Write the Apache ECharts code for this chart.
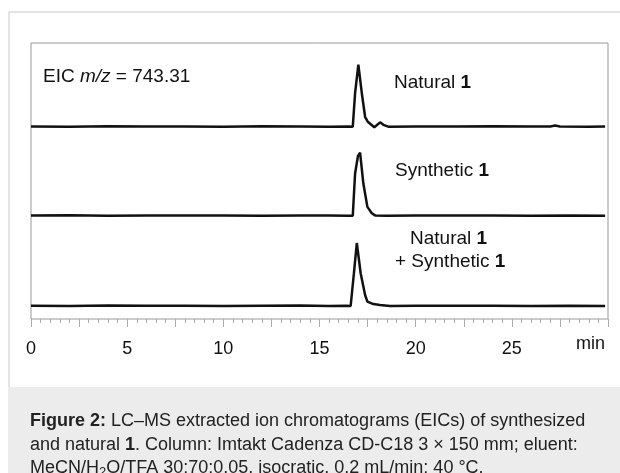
<!DOCTYPE html>
<html><head><meta charset="utf-8">
<script src="https://cdn.jsdelivr.net/npm/echarts@6/dist/echarts.min.js"></script>
<style>html,body{margin:0;padding:0;background:#fff}#c{width:620px;height:473px}</style>
</head><body><div id="c"></div>
<script>
// Retention times (min) and relative intensities (%) for each trace
const timesNatural = [0, 2, 4, 6, 8, 10, 12, 14, 15.5, 16.5, 16.73, 16.85, 17.02, 17.2, 17.37, 17.51, 17.85, 18.15, 18.32, 18.58, 20, 22, 24, 26, 27, 27.25, 27.5, 29, 29.85];
const natural      = [0.5, 0, 0.8, 0.2, 0.5, 0, 0.6, 0.3, 0, 0.5, 0, 54, 100, 54, 16, 8, -1, 7, 3, 0, 0.5, 0.3, 0.6, 0.2, 0.4, 2, 0.4, 0, 0.3];
const timesSynthetic = [0, 2, 4, 6, 8, 10, 12, 14, 15.5, 16.5, 16.73, 16.85, 17.0, 17.11, 17.28, 17.49, 17.72, 17.89, 18.5, 20, 22, 24, 26, 28, 29.85];
const synthetic      = [0.3, 0.6, 0, 0.4, 0.2, 0.5, 0, 0.3, 0.5, 0, 0, 67, 95, 100, 51, 14, 4, 0.5, 0, 0.4, 0.2, 0.5, 0, 0.3, 0];
const timesCoinj = [0, 2, 4, 6, 8, 10, 12, 14, 15.5, 16.4, 16.62, 16.79, 16.94, 17.14, 17.37, 17.49, 17.8, 18.15, 18.67, 20, 22, 24, 26, 28, 29.85];
const coinjection = [0.4, 0, 0.6, 0.2, 0.5, 0, 0.3, 0.6, 0, 0.4, 0, 52, 100, 52, 17.5, 7, 3, 1.6, 0, 0.4, 0.2, 0.5, 0, 0.3, 0];
const xMin = 0, xMax = 30, xTickInterval = 2.5, xLabelStep = 5;

// Layout (pixels)
const FONT = '"Liberation Sans", Arial, Helvetica, sans-serif';
const LBL = 19, CAP = 18;
const plotLeft = 31, plotRight = 12, plotTop = 43, plotBottom = 154;
const traceLayout = [
  { base: 126.7, height: 62 },
  { base: 215.7, height: 63 },
  { base: 306.0, height: 63 }
];

const zip = (t, v) => t.map((x, i) => [x, v[i]]);
const traces = [zip(timesNatural, natural), zip(timesSynthetic, synthetic), zip(timesCoinj, coinjection)];

const grids = [{ left: plotLeft, right: plotRight, top: plotTop, bottom: plotBottom, show: true, borderColor: '#999', borderWidth: 1, backgroundColor: 'transparent' }];
const xAxes = [{
  gridIndex: 0, type: 'value', min: xMin, max: xMax, interval: xTickInterval, offset: 6,
  axisLine: { show: false },
  axisTick: { show: true, length: 8, lineStyle: { color: '#aaa', width: 1 } },
  minorTick: { show: true, splitNumber: 5, length: 4, lineStyle: { color: '#aaa', width: 1 } },
  splitLine: { show: false },
  axisLabel: { margin: 15, fontFamily: FONT, fontSize: 18, color: '#111',
    formatter: v => (v % xLabelStep === 0 && v < xMax) ? String(v) : '' }
}];
const yAxes = [{ gridIndex: 0, type: 'value', show: false }];
const series = [];
traceLayout.forEach((L, i) => {
  grids.push({ left: plotLeft, right: plotRight, top: L.base - L.height, height: L.height, show: false });
  xAxes.push({ gridIndex: i + 1, type: 'value', min: xMin, max: xMax, show: false });
  yAxes.push({ gridIndex: i + 1, type: 'value', min: 0, max: 100, show: false });
  series.push({ type: 'line', xAxisIndex: i + 1, yAxisIndex: i + 1, data: traces[i], showSymbol: false, symbol: 'none', clip: false,
    lineStyle: { color: '#111', width: 2.5 }, silent: true });
});
const rn = { fontFamily: FONT, fontSize: LBL, fill: '#111' };
const rb = Object.assign({}, rn, { fontWeight: 'bold' });
const ri = Object.assign({}, rn, { fontStyle: 'italic' });
const cn = { fontFamily: FONT, fontSize: CAP, fill: '#222' };
const cb = Object.assign({}, cn, { fontWeight: 'bold' });
const cs = { fontFamily: FONT, fontSize: 13, fill: '#222', padding: [9, 0, 0, 0] };

const chart = echarts.init(document.getElementById('c'), null, { renderer: 'canvas' });
chart.setOption({
  animation: false,
  backgroundColor: '#fff',
  grid: grids, xAxis: xAxes, yAxis: yAxes, series: series,
  graphic: [
    { type: 'rect', shape: { x: 9, y: 12, width: 640, height: 500 }, style: { fill: 'none', stroke: '#dcdcdc', lineWidth: 1.5 }, z: -1 },
    { type: 'rect', shape: { x: 8, y: 387, width: 620, height: 90 }, style: { fill: '#ececec' }, z: 0 },
    { type: 'text', left: 43, top: 67, style: { text: '{n|EIC }{i|m/z}{n| = 743.31}', rich: { n: rn, i: ri } } },
    { type: 'text', left: 394, top: 73, style: { text: '{n|Natural }{b|1}', rich: { n: rn, b: rb } } },
    { type: 'text', left: 395, top: 161, style: { text: '{n|Synthetic }{b|1}', rich: { n: rn, b: rb } } },
    { type: 'text', left: 410, top: 229, style: { text: '{n|Natural }{b|1}', rich: { n: rn, b: rb } } },
    { type: 'text', left: 395, top: 252, style: { text: '{n|+ Synthetic }{b|1}', rich: { n: rn, b: rb } } },
    { type: 'text', left: 576, top: 335, style: { text: 'min', fontFamily: FONT, fontSize: 18, fill: '#111' } },
    { type: 'text', left: 30, top: 412, z: 2, style: { text: '{b|Figure 2:}{n| LC–MS extracted ion chromatograms (EICs) of synthesized}', rich: { n: cn, b: cb } } },
    { type: 'text', left: 30, top: 436, z: 2, style: { text: '{n|and natural }{b|1}{n|. Column: Imtakt Cadenza CD-C18 3 × 150 mm; eluent:}', rich: { n: cn, b: cb } } },
    { type: 'text', left: 30, top: 459, z: 2, style: { text: '{n|MeCN/H}{s|2}{n|O/TFA 30:70:0.05, isocratic, 0.2 mL/min; 40 °C.}', rich: { n: cn, s: cs } } }
  ]
});
</script></body></html>
